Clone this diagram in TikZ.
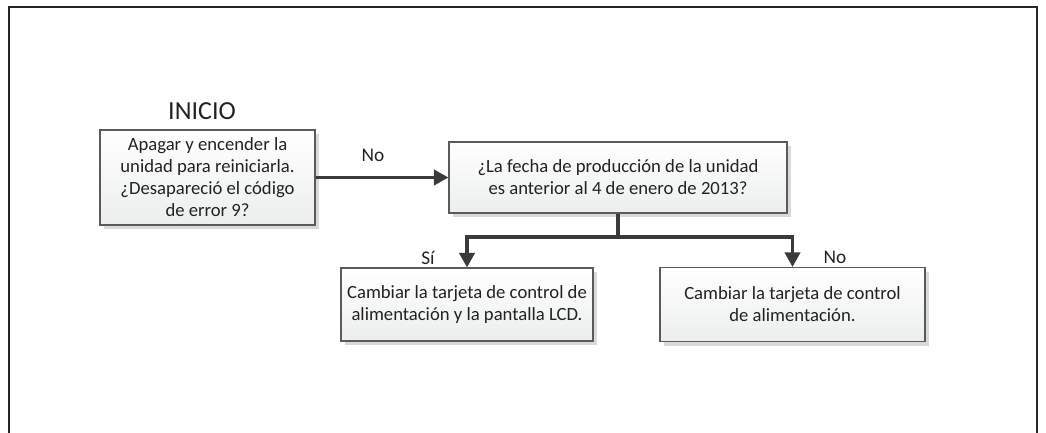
\documentclass[tikz,border=0pt]{standalone}
\usepackage{fontspec}
\setmainfont{Carlito}
\usetikzlibrary{arrows.meta,shadows}
\definecolor{lineC}{HTML}{3A3A3A}
\definecolor{boxB}{HTML}{5A5A5A}
\definecolor{boxF}{HTML}{ECEEEE}
\definecolor{shadC}{HTML}{D9D9D9}
\definecolor{txtC}{HTML}{222222}
\begin{document}
\begin{tikzpicture}[x=0.75pt,y=-0.75pt,
  flowbox/.style={draw=boxB,line width=0.8pt,top color=white,bottom color=boxF,
    align=center,inner sep=0pt,text=txtC,font=\fontsize{14}{16.5}\selectfont,
    drop shadow={shadow xshift=3pt,shadow yshift=-3pt,fill=shadC,opacity=1}},
  conn/.style={draw=lineC,line width=2.5pt,-{Triangle[width=11.5pt,length=11pt]}},
  lbl/.style={font=\fontsize{14.5}{17}\selectfont,inner sep=0pt,text=txtC}]
\useasboundingbox (0,0) rectangle (1046,432);
\draw[line width=2.2pt,draw=black!85] (9,440) -- (9,7) -- (1037,7) -- (1037,440);
\node[flowbox,minimum width=161.25pt,minimum height=71.25pt] (b1) at (207.5,177.5)
  {Apagar y encender la\\unidad para reiniciarla.\\¿Desapareció el código\\de error 9?};
\node[flowbox,minimum width=253.5pt,minimum height=53.25pt] (b2) at (618,177.5)
  {¿La fecha de producción de la unidad\\es anterior al 4 de enero de 2013?};
\node[flowbox,minimum width=189pt,minimum height=54.75pt] (b3) at (467,304.5)
  {Cambiar la tarjeta de control de\\alimentación y la pantalla LCD.};
\node[flowbox,minimum width=198.75pt,minimum height=55.5pt] (b4) at (792.5,304.5)
  {Cambiar la tarjeta de control\\de alimentación.};
\node[font=\fontsize{19.5}{22}\selectfont,inner sep=0pt,text=txtC] (inicio) at (202,111) {INICIO};
\node[lbl] (lno1) at (373,155) {No};
\node[lbl] (lsi) at (428,258) {Sí};
\node[lbl] (lno2) at (835,257) {No};
\coordinate (j) at (618,237);
\draw[conn] (b1.east) -- (b2.west);
\draw[conn] (b2.south) -- (j) -| (b3.north);
\draw[conn] (j) -| (b4.north);
\end{tikzpicture}
\end{document}
